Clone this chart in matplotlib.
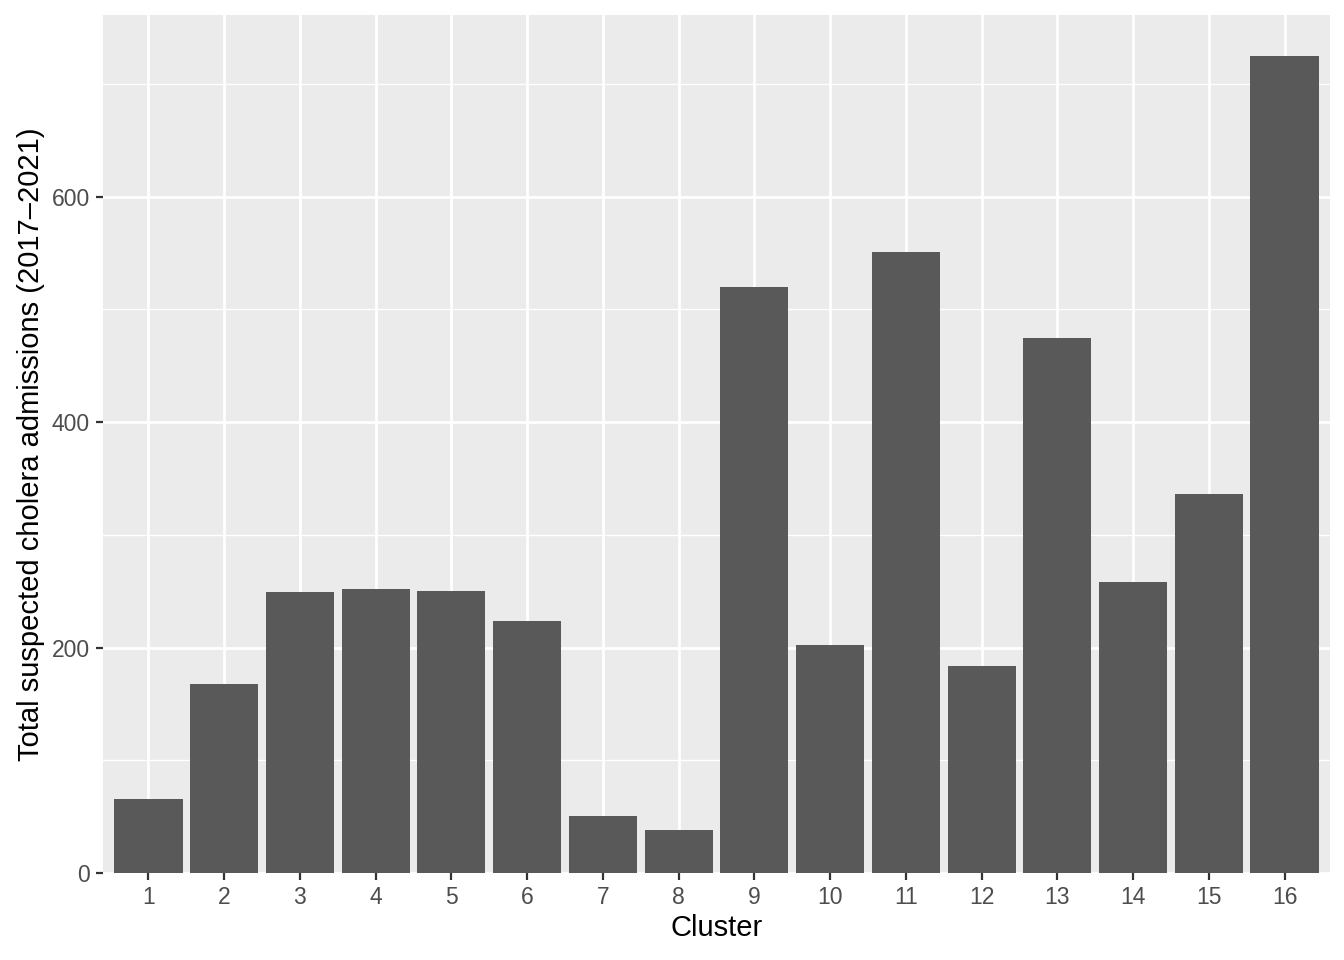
import numpy as np
import matplotlib
matplotlib.use("Agg")
import matplotlib.pyplot as plt

clusters = [str(i) for i in range(1, 17)]
admissions = [66, 168, 249, 252, 250, 224, 51, 38, 520, 202, 551, 184, 475, 258, 336, 725]

plt.rcParams['font.family'] = ['Liberation Sans', 'DejaVu Sans']

fig = plt.figure(figsize=(13.44, 9.6), dpi=100)
ax = fig.add_axes([103 / 1344, 1 - 873 / 960, (1330 - 103) / 1344, (873 - 15) / 960])

x = np.arange(1, len(clusters) + 1)
ax.set_facecolor('#EBEBEB')
ax.bar(x, admissions, width=0.9, color='#595959', zorder=3)

ymax = max(admissions) * 1.05
ax.set_ylim(0, ymax)
ax.set_xlim(0.4, len(clusters) + 0.6)

ax.set_yticks([0, 200, 400, 600])
ax.set_yticks([100, 300, 500, 700], minor=True)
ax.set_xticks(x)
ax.set_xticklabels(clusters)

ax.grid(which='major', color='white', linewidth=2.0, zorder=0)
ax.grid(which='minor', axis='y', color='white', linewidth=1.0, zorder=0)
ax.set_axisbelow(True)

for s in ax.spines.values():
    s.set_visible(False)

ax.tick_params(which='major', length=5.3, width=1.6, color='#333333',
               labelcolor='#4D4D4D', labelsize=16.5, pad=4)
ax.tick_params(which='minor', length=0)

ax.set_xlabel('Cluster', fontsize=21, color='black', labelpad=4)
ax.set_ylabel('Total suspected cholera admissions (2017\u20132021)', fontsize=21,
              color='black', labelpad=5)

fig.savefig('out.png', dpi=100)
